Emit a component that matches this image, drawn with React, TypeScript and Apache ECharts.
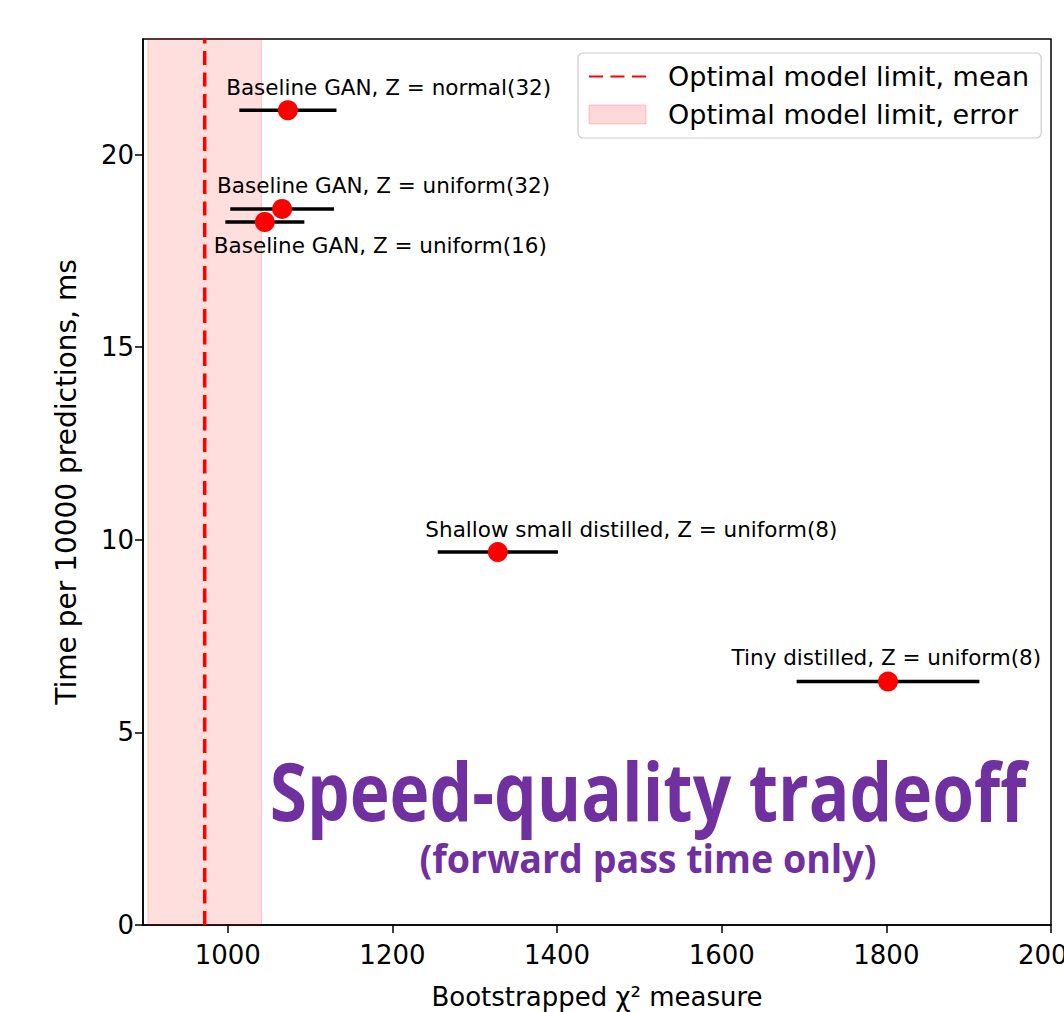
import React, { useEffect, useRef } from "react";
import * as echarts from "echarts";

const pointNames = [
  "Baseline GAN, Z = normal(32)",
  "Baseline GAN, Z = uniform(32)",
  "Baseline GAN, Z = uniform(16)",
  "Shallow small distilled, Z = uniform(8)",
  "Tiny distilled, Z = uniform(8)",
];
const chi2 = [1073, 1066, 1045, 1328, 1802];
const chi2Err = [59, 63, 48, 73, 111];
const timeMs = [21.15, 18.59, 18.25, 9.68, 6.32];
const labelX = [998, 987, 983, 1240, 1612];
const labelY = [21.74, 19.19, 17.64, 10.26, 6.94];

const limitMean = 972;
const limitLow = 903;
const limitHigh = 1041;

const xMin = 897;
const xMax = 2000;
const yMin = 0;
const yMax = 23;
const xTicks = [1000, 1200, 1400, 1600, 1800, 2000];
const yTicks = [0, 5, 10, 15, 20];

const meanName = "Optimal model limit, mean";
const errName = "Optimal model limit, error";
const FONT = "DejaVu Sans";

export default function App() {
  const ref = useRef<HTMLDivElement>(null);
  useEffect(() => {
    document.body.style.margin = "0";
    const chart = echarts.init(ref.current!, null, { renderer: "svg" });
    const axisCommon = {
      axisLine: { show: true, lineStyle: { color: "#000", width: 1.5 } },
      axisTick: { show: true, inside: false, length: 8, lineStyle: { color: "#000", width: 1.5 } },
      splitLine: { show: false },
    };
    chart.setOption({
      animation: false,
      backgroundColor: "#fff",
      grid: {
        left: 143,
        top: 39,
        width: 908,
        height: 886,
        show: true,
        borderColor: "#000",
        borderWidth: 1.5,
        backgroundColor: "transparent",
        containLabel: false,
        outerBoundsMode: "none",
      },
      xAxis: {
        type: "value",
        min: xMin,
        max: xMax,
        ...axisCommon,
        axisTick: { ...axisCommon.axisTick, customValues: xTicks },
        axisLabel: {
          customValues: xTicks,
          formatter: (v: number) => String(v),
          fontFamily: FONT,
          fontSize: 26,
          color: "#000",
          margin: 17,
        },
        name: "Bootstrapped χ² measure",
        nameLocation: "middle",
        nameGap: 59,
        nameTextStyle: { fontFamily: FONT, fontSize: 26, color: "#000" },
      },
      yAxis: {
        type: "value",
        min: yMin,
        max: yMax,
        ...axisCommon,
        axisTick: { ...axisCommon.axisTick, customValues: yTicks },
        axisLabel: {
          customValues: yTicks,
          fontFamily: FONT,
          fontSize: 26,
          color: "#000",
          margin: 9,
        },
        name: "Time per 10000 predictions, ms",
        nameLocation: "middle",
        nameRotate: 90,
        nameGap: 63,
        nameTextStyle: { fontFamily: FONT, fontSize: 28, color: "#000" },
      },
      legend: {
        orient: "vertical",
        left: 578,
        top: 53,
        padding: [10, 12, 10, 10],
        itemGap: 11,
        itemWidth: 57,
        itemHeight: 19,
        backgroundColor: "rgba(255,255,255,0.85)",
        borderColor: "#cccccc",
        borderWidth: 1.2,
        borderRadius: 5,
        textStyle: { fontFamily: FONT, fontSize: 27, color: "#000", padding: [0, 0, 0, 17] },
        data: [
          { name: meanName, itemStyle: { opacity: 0 } },
          {
            name: errName,
            icon: "rect",
            itemStyle: { color: "rgba(255,0,0,0.15)", borderColor: "rgba(255,0,0,0.2)", borderWidth: 1 },
          },
        ],
      },
      graphic: [
        {
          type: "text",
          x: 648,
          y: 790,
          scaleX: 0.845,
          style: {
            text: "Speed-quality tradeoff",
            font: 'bold 80px "Open Sans"',
            fill: "#7030A0",
            align: "center",
            verticalAlign: "middle",
          },
          z: 100,
        },
        {
          type: "text",
          x: 648,
          y: 858,
          scaleX: 0.94,
          style: {
            text: "(forward pass time only)",
            font: 'bold 40px "Open Sans"',
            fill: "#7030A0",
            align: "center",
            verticalAlign: "middle",
          },
          z: 100,
        },
      ],
      series: [
        {
          name: errName,
          type: "custom",
          itemStyle: { color: "rgba(255,0,0,0.15)" },
          data: [[limitLow, yMin, limitHigh, yMax]],
          encode: { x: [0, 2], y: [1, 3] },
          renderItem: (params: any, api: any) => {
            const p0 = api.coord([api.value(0), api.value(3)]);
            const p1 = api.coord([api.value(2), api.value(1)]);
            return {
              type: "rect",
              shape: { x: p0[0], y: p0[1], width: p1[0] - p0[0], height: p1[1] - p0[1] },
              style: { fill: "rgba(255,0,0,0.13)", stroke: "rgba(255,0,0,0.18)", lineWidth: 1 },
            };
          },
          z: 1,
        },
        {
          name: meanName,
          type: "line",
          data: [
            [limitMean, yMin],
            [limitMean, yMax],
          ],
          symbol: "none",
          showSymbol: false,
          itemStyle: { color: "#ff0000" },
          lineStyle: { color: "#ff0000", width: 3.5, type: [14, 7.5] },
          z: 3,
        },
        {
          name: "errorbars",
          type: "custom",
          data: chi2.map((x, i) => [x, timeMs[i], chi2Err[i]]),
          renderItem: (params: any, api: any) => {
            const x = api.value(0);
            const y = api.value(1);
            const e = api.value(2);
            const a = api.coord([x - e, y]);
            const b = api.coord([x + e, y]);
            return {
              type: "line",
              shape: { x1: a[0], y1: a[1], x2: b[0], y2: b[1] },
              style: { stroke: "#000", lineWidth: 3.5 },
            };
          },
          z: 4,
        },
        {
          name: "points",
          type: "scatter",
          data: chi2.map((x, i) => [x, timeMs[i]]),
          symbol: "circle",
          symbolSize: 20,
          itemStyle: { color: "#ff0000", opacity: 1 },
          z: 5,
        },
        {
          name: "labels",
          type: "scatter",
          data: labelX.map((x, i) => [x, labelY[i], pointNames[i]]),
          symbolSize: 0,
          silent: true,
          itemStyle: { opacity: 1 },
          label: {
            show: true,
            position: "inside",
            align: "left",
            verticalAlign: "middle",
            formatter: (p: any) => p.value[2],
            fontFamily: FONT,
            fontSize: 21.5,
            color: "#000",
          },
          z: 6,
        },
      ],
    });
    return () => chart.dispose();
  }, []);
  return (
    <div
      ref={ref}
      style={{ position: "absolute", left: 0, top: 0, width: 1064, height: 1012, background: "#fff" }}
    />
  );
}
